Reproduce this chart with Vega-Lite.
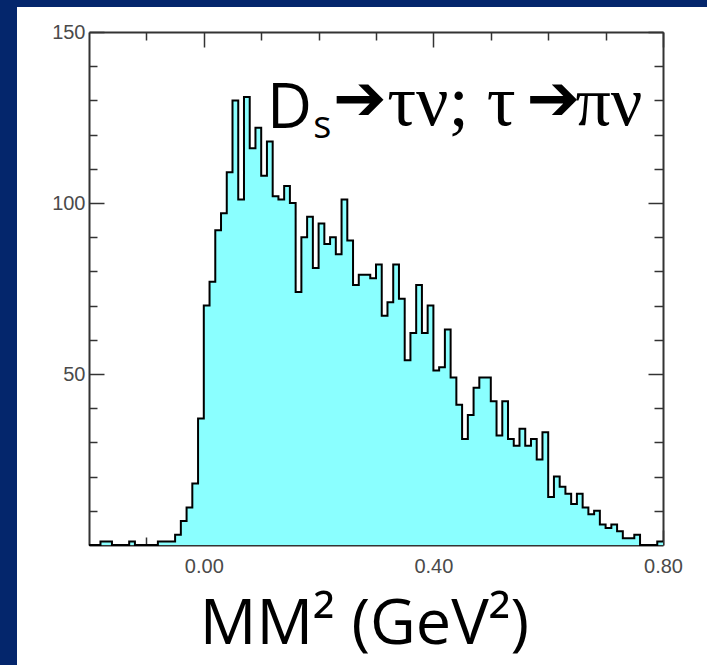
{
  "$schema": "https://vega.github.io/schema/vega-lite/v6.json",
  "width": 690,
  "height": 658,
  "autosize": {"type": "none"},
  "padding": {"left": 17, "top": 7, "right": 0, "bottom": 0},
  "background": "#04266c",
  "view": {"fill": "white", "stroke": null},
  "config": {
    "axis": {
      "grid": false,
      "zindex": 1,
      "domainColor": "#333333",
      "domainWidth": 2,
      "tickColor": "#333333",
      "tickWidth": 1.5,
      "labelFont": "Liberation Sans",
      "labelFontSize": 20,
      "labelColor": "#4a4a4a",
      "labelOverlap": false,
      "labelFlush": false,
      "labelBound": false
    }
  },
  "datasets": {
    "hist": [
      {"lo": -0.2, "hi": -0.19, "n": 0},
      {"lo": -0.19, "hi": -0.18, "n": 0},
      {"lo": -0.18, "hi": -0.17, "n": 1},
      {"lo": -0.17, "hi": -0.16, "n": 1},
      {"lo": -0.16, "hi": -0.15, "n": 0},
      {"lo": -0.15, "hi": -0.14, "n": 0},
      {"lo": -0.14, "hi": -0.13, "n": 0},
      {"lo": -0.13, "hi": -0.12, "n": 1},
      {"lo": -0.12, "hi": -0.11, "n": 0},
      {"lo": -0.11, "hi": -0.1, "n": 0},
      {"lo": -0.1, "hi": -0.09, "n": 0},
      {"lo": -0.09, "hi": -0.08, "n": 0},
      {"lo": -0.08, "hi": -0.07, "n": 1},
      {"lo": -0.07, "hi": -0.06, "n": 1},
      {"lo": -0.06, "hi": -0.05, "n": 1},
      {"lo": -0.05, "hi": -0.04, "n": 3},
      {"lo": -0.04, "hi": -0.03, "n": 7},
      {"lo": -0.03, "hi": -0.02, "n": 11},
      {"lo": -0.02, "hi": -0.01, "n": 18},
      {"lo": -0.01, "hi": 0.0, "n": 37},
      {"lo": 0.0, "hi": 0.01, "n": 70},
      {"lo": 0.01, "hi": 0.02, "n": 77},
      {"lo": 0.02, "hi": 0.03, "n": 92},
      {"lo": 0.03, "hi": 0.04, "n": 97},
      {"lo": 0.04, "hi": 0.05, "n": 109},
      {"lo": 0.05, "hi": 0.06, "n": 130},
      {"lo": 0.06, "hi": 0.07, "n": 101},
      {"lo": 0.07, "hi": 0.08, "n": 131},
      {"lo": 0.08, "hi": 0.09, "n": 116},
      {"lo": 0.09, "hi": 0.1, "n": 122},
      {"lo": 0.1, "hi": 0.11, "n": 108},
      {"lo": 0.11, "hi": 0.12, "n": 118},
      {"lo": 0.12, "hi": 0.13, "n": 102},
      {"lo": 0.13, "hi": 0.14, "n": 101},
      {"lo": 0.14, "hi": 0.15, "n": 105},
      {"lo": 0.15, "hi": 0.16, "n": 100},
      {"lo": 0.16, "hi": 0.17, "n": 74},
      {"lo": 0.17, "hi": 0.18, "n": 90},
      {"lo": 0.18, "hi": 0.19, "n": 96},
      {"lo": 0.19, "hi": 0.2, "n": 81},
      {"lo": 0.2, "hi": 0.21, "n": 94},
      {"lo": 0.21, "hi": 0.22, "n": 88},
      {"lo": 0.22, "hi": 0.23, "n": 90},
      {"lo": 0.23, "hi": 0.24, "n": 85},
      {"lo": 0.24, "hi": 0.25, "n": 101},
      {"lo": 0.25, "hi": 0.26, "n": 89},
      {"lo": 0.26, "hi": 0.27, "n": 76},
      {"lo": 0.27, "hi": 0.28, "n": 79},
      {"lo": 0.28, "hi": 0.29, "n": 79},
      {"lo": 0.29, "hi": 0.3, "n": 78},
      {"lo": 0.3, "hi": 0.31, "n": 82},
      {"lo": 0.31, "hi": 0.32, "n": 67},
      {"lo": 0.32, "hi": 0.33, "n": 71},
      {"lo": 0.33, "hi": 0.34, "n": 82},
      {"lo": 0.34, "hi": 0.35, "n": 72},
      {"lo": 0.35, "hi": 0.36, "n": 54},
      {"lo": 0.36, "hi": 0.37, "n": 62},
      {"lo": 0.37, "hi": 0.38, "n": 76},
      {"lo": 0.38, "hi": 0.39, "n": 62},
      {"lo": 0.39, "hi": 0.4, "n": 70},
      {"lo": 0.4, "hi": 0.41, "n": 51},
      {"lo": 0.41, "hi": 0.42, "n": 52},
      {"lo": 0.42, "hi": 0.43, "n": 63},
      {"lo": 0.43, "hi": 0.44, "n": 49},
      {"lo": 0.44, "hi": 0.45, "n": 41},
      {"lo": 0.45, "hi": 0.46, "n": 31},
      {"lo": 0.46, "hi": 0.47, "n": 38},
      {"lo": 0.47, "hi": 0.48, "n": 46},
      {"lo": 0.48, "hi": 0.49, "n": 49},
      {"lo": 0.49, "hi": 0.5, "n": 49},
      {"lo": 0.5, "hi": 0.51, "n": 42},
      {"lo": 0.51, "hi": 0.52, "n": 32},
      {"lo": 0.52, "hi": 0.53, "n": 42},
      {"lo": 0.53, "hi": 0.54, "n": 31},
      {"lo": 0.54, "hi": 0.55, "n": 29},
      {"lo": 0.55, "hi": 0.56, "n": 34},
      {"lo": 0.56, "hi": 0.57, "n": 29},
      {"lo": 0.57, "hi": 0.58, "n": 31},
      {"lo": 0.58, "hi": 0.59, "n": 25},
      {"lo": 0.59, "hi": 0.6, "n": 33},
      {"lo": 0.6, "hi": 0.61, "n": 14},
      {"lo": 0.61, "hi": 0.62, "n": 20},
      {"lo": 0.62, "hi": 0.63, "n": 17},
      {"lo": 0.63, "hi": 0.64, "n": 15},
      {"lo": 0.64, "hi": 0.65, "n": 12},
      {"lo": 0.65, "hi": 0.66, "n": 15},
      {"lo": 0.66, "hi": 0.67, "n": 11},
      {"lo": 0.67, "hi": 0.68, "n": 9},
      {"lo": 0.68, "hi": 0.69, "n": 10},
      {"lo": 0.69, "hi": 0.7, "n": 6},
      {"lo": 0.7, "hi": 0.71, "n": 5},
      {"lo": 0.71, "hi": 0.72, "n": 6},
      {"lo": 0.72, "hi": 0.73, "n": 4},
      {"lo": 0.73, "hi": 0.74, "n": 2},
      {"lo": 0.74, "hi": 0.75, "n": 2},
      {"lo": 0.75, "hi": 0.76, "n": 3},
      {"lo": 0.76, "hi": 0.77, "n": 0},
      {"lo": 0.77, "hi": 0.78, "n": 0},
      {"lo": 0.78, "hi": 0.79, "n": 0},
      {"lo": 0.79, "hi": 0.8, "n": 1}
    ]
  },
  "layer": [
    {
      "data": {"name": "hist"},
      "transform": [{"fold": ["lo", "hi"], "as": ["side", "edge"]}],
      "mark": {"type": "area", "color": "#8affff", "opacity": 1},
      "encoding": {
        "x": {
          "field": "edge", "type": "quantitative",
          "scale": {"domain": [-0.2, 0.8], "range": [72, 646], "nice": false, "zero": false},
          "axis": {
            "orient": "bottom", "offset": -120,
            "values": [-0.1, 0, 0.1, 0.2, 0.3, 0.4, 0.5, 0.6, 0.7, 0.8],
            "labelExpr": "round(datum.value * 10) % 4 == 0 ? format(datum.value, '.2f') : ''",
            "tickSize": {"condition": {"test": "round(datum.value * 10) % 4 == 0", "value": -15}, "value": -8},
            "labelPadding": 26,
            "title": "MM² (GeV²)",
            "titleFont": "Comic Sans MS, Open Sans",
            "titleFontSize": 63,
            "titleFontWeight": "normal",
            "titleColor": "#000000",
            "titlePadding": 10,
            "titleX": 347
          }
        },
        "y": {
          "field": "n", "type": "quantitative", "stack": null,
          "scale": {"domain": [0, 150], "range": [538, 25], "nice": false},
          "axis": {
            "orient": "left", "offset": -72,
            "values": [10, 20, 30, 40, 50, 60, 70, 80, 90, 100, 110, 120, 130, 140, 150],
            "labelExpr": "datum.value % 50 == 0 ? datum.label : ''",
            "tickSize": {"condition": {"test": "datum.value % 50 == 0", "value": -15}, "value": -8},
            "labelPadding": 19,
            "title": null
          }
        },
        "order": {"value": null}
      }
    },
    {
      "data": {"name": "hist"},
      "transform": [{"fold": ["lo", "hi"], "as": ["side", "edge"]}],
      "mark": {"type": "line", "color": "#000000", "strokeWidth": 2, "strokeJoin": "miter"},
      "encoding": {
        "x": {
          "field": "edge", "type": "quantitative",
          "scale": {"domain": [-0.2, 0.8], "range": [72, 646], "nice": false, "zero": false},
          "axis": {
            "orient": "top", "offset": -25,
            "values": [-0.1, 0, 0.1, 0.2, 0.3, 0.4, 0.5, 0.6, 0.7, 0.8],
            "labels": false,
            "tickSize": {"condition": {"test": "round(datum.value * 10) % 4 == 0", "value": -15}, "value": -8},
            "title": null
          }
        },
        "y": {
          "field": "n", "type": "quantitative", "stack": null,
          "scale": {"domain": [0, 150], "range": [538, 25], "nice": false},
          "axis": {
            "orient": "right", "offset": -44,
            "values": [10, 20, 30, 40, 50, 60, 70, 80, 90, 100, 110, 120, 130, 140, 150],
            "labels": false,
            "tickSize": {"condition": {"test": "datum.value % 50 == 0", "value": -15}, "value": -9},
            "title": null
          }
        },
        "order": {"value": null}
      }
    },
    {
      "data": {"values": [{}]},
      "mark": {"type": "text", "text": "D", "font": "Comic Sans MS, Open Sans", "fontSize": 62, "align": "left", "baseline": "alphabetic", "color": "#000000"},
      "encoding": {
        "x": {"datum": 0.11, "type": "quantitative", "scale": {"domain": [-0.2, 0.8], "range": [72, 646], "nice": false, "zero": false}, "axis": null},
        "y": {"datum": 122, "type": "quantitative", "scale": {"domain": [0, 150], "range": [538, 25], "nice": false}, "axis": null}
      }
    },
    {
      "data": {"values": [{}]},
      "mark": {"type": "text", "text": "s", "font": "Comic Sans MS, Open Sans", "fontSize": 38, "align": "left", "baseline": "alphabetic", "color": "#000000"},
      "encoding": {
        "x": {"datum": 0.1905, "type": "quantitative", "scale": {"domain": [-0.2, 0.8], "range": [72, 646], "nice": false, "zero": false}, "axis": null},
        "y": {"datum": 119, "type": "quantitative", "scale": {"domain": [0, 150], "range": [538, 25], "nice": false}, "axis": null}
      }
    },
    {
      "data": {"values": [{}]},
      "mark": {"type": "text", "text": "➔", "font": "DejaVu Sans", "fontSize": 64, "align": "left", "baseline": "middle", "color": "#000000"},
      "encoding": {
        "x": {"datum": 0.2253, "type": "quantitative", "scale": {"domain": [-0.2, 0.8], "range": [72, 646], "nice": false, "zero": false}, "axis": null},
        "y": {"datum": 129.8, "type": "quantitative", "scale": {"domain": [0, 150], "range": [538, 25], "nice": false}, "axis": null}
      }
    },
    {
      "data": {"values": [{}]},
      "mark": {"type": "text", "text": "τν; τ", "font": "Liberation Serif", "fontSize": 72, "align": "right", "baseline": "alphabetic", "color": "#000000"},
      "encoding": {
        "x": {"datum": 0.5432, "type": "quantitative", "scale": {"domain": [-0.2, 0.8], "range": [72, 646], "nice": false, "zero": false}, "axis": null},
        "y": {"datum": 122.8, "type": "quantitative", "scale": {"domain": [0, 150], "range": [538, 25], "nice": false}, "axis": null}
      }
    },
    {
      "data": {"values": [{}]},
      "mark": {"type": "text", "text": "➔", "font": "DejaVu Sans", "fontSize": 64, "align": "left", "baseline": "middle", "color": "#000000"},
      "encoding": {
        "x": {"datum": 0.562, "type": "quantitative", "scale": {"domain": [-0.2, 0.8], "range": [72, 646], "nice": false, "zero": false}, "axis": null},
        "y": {"datum": 129.8, "type": "quantitative", "scale": {"domain": [0, 150], "range": [538, 25], "nice": false}, "axis": null}
      }
    },
    {
      "data": {"values": [{}]},
      "mark": {"type": "text", "text": "πν", "font": "Liberation Serif", "fontSize": 70, "align": "left", "baseline": "alphabetic", "color": "#000000"},
      "encoding": {
        "x": {"datum": 0.6475, "type": "quantitative", "scale": {"domain": [-0.2, 0.8], "range": [72, 646], "nice": false, "zero": false}, "axis": null},
        "y": {"datum": 122.8, "type": "quantitative", "scale": {"domain": [0, 150], "range": [538, 25], "nice": false}, "axis": null}
      }
    }
  ],
  "resolve": {"axis": {"x": "independent", "y": "independent"}}
}
